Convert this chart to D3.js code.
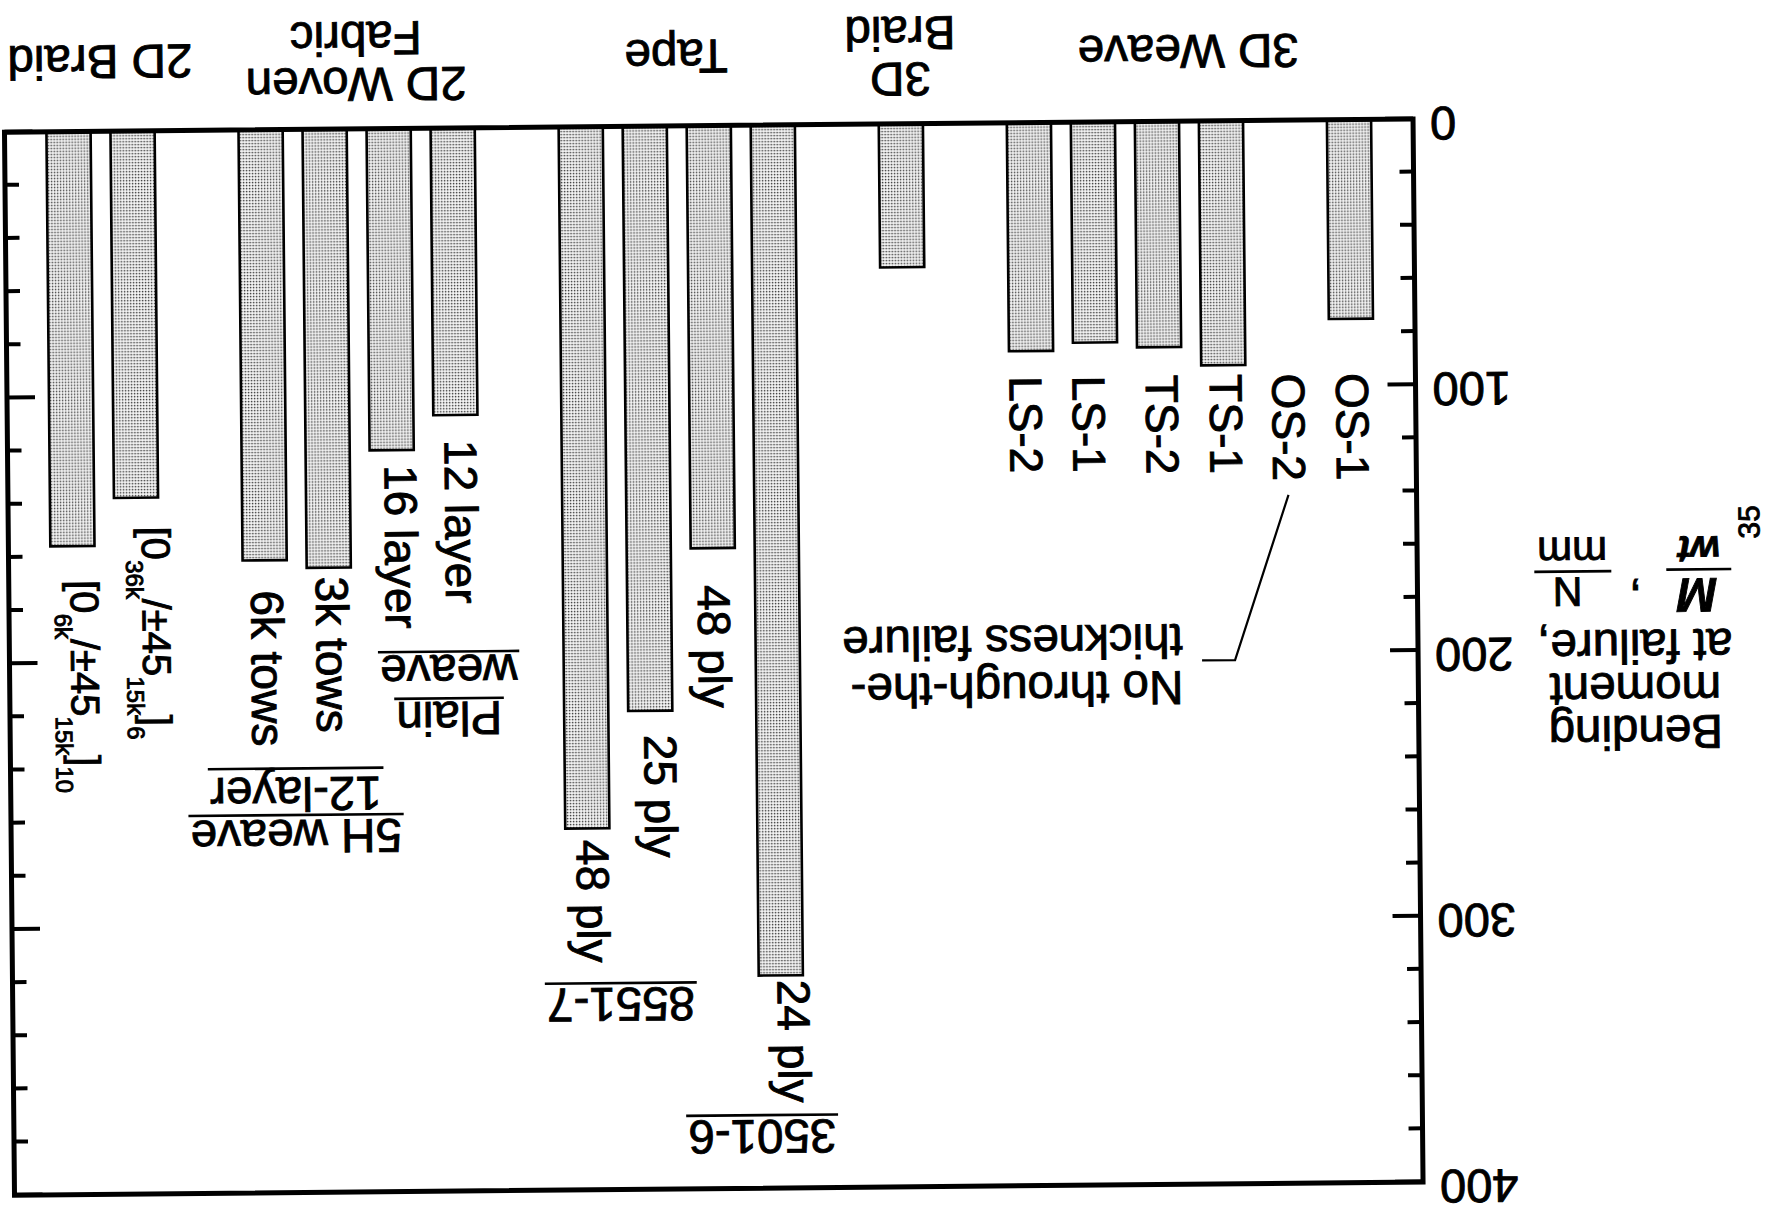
<!DOCTYPE html>
<html><head><meta charset="utf-8">
<script src="https://cdn.jsdelivr.net/npm/d3@7"></script>
<style>
html,body{margin:0;padding:0;background:#fff;}
svg{display:block;}
text{font-family:"Liberation Sans", Arial, Helvetica, sans-serif; fill:#000; stroke:#000; stroke-width:0.9px;}
</style></head><body>
<svg id="chart" width="1773" height="1213"></svg>
<script>
// ---------------- data ----------------
const groupTitleLines = [["3D Weave"], ["3D", "Braid"], ["Tape"], ["2D Woven", "Fabric"], ["2D Braid"]];
const weaveLabels  = ["OS-1", "OS-2", "TS-1", "TS-2", "LS-1", "LS-2"];
const weaveValues  = [75, null, 92, 85, 83, 86];          // OS-2: no through-the-thickness failure
const braid3DLabels = [""];
const braid3DValues = [54];
const tapeLabels   = ["24 ply", "48 ply", "25 ply", "48 ply"];
const tapeValues   = [320, 159, 220, 264];
const wovenLabels  = ["12 layer", "16 layer", "3k tows", "6k tows"];
const wovenValues  = [108, 121, 165, 162];
const braid2DLabels = ["[0_{36k}/±45_{15k}]_{6}", "[0_{6k}/±45_{15k}]_{10}"];
const braid2DValues = [138, 156];
const yTickLabels = [0, 100, 200, 300, 400];
const tapeHeaders  = ["3501-6", "8551-7"];
const wovenHeaders = [["Plain", "weave"], ["5H weave", "12-layer"]];
const noteLines = ["No through-the-", "thickness failure"];
const yTitleLines = ["Bending", "moment", "at failure,"];

// ---------------- layout (not data) ----------------
const W = 1773, H = 1213;
const frame = {left: 355.4, right: 1764, top: 26, bottom: 1089.1};
const labelDx  = [[15.3, 15.2, 13.7, 13.5, 22.8, 21.7], [0], [3.3, 15.3, 6.3, 11], [11, 7.4, 13, 14], [-5.5, 2.3]];
const labelGap = [null, [0], [4.6, 37, 24, 11.6], [25, 15, 9, 30], [29, 34]];

const groups = [
  {title: groupTitleLines[0], labels: weaveLabels,  values: weaveValues},
  {title: groupTitleLines[1], labels: braid3DLabels, values: braid3DValues},
  {title: groupTitleLines[2], labels: tapeLabels,   values: tapeValues},
  {title: groupTitleLines[3], labels: wovenLabels,  values: wovenValues},
  {title: groupTitleLines[4], labels: braid2DLabels, values: braid2DValues}
];
const slots = [];
groups.forEach((g, gi) => {
  if (gi > 0) slots.push({key: "gap" + gi, gap: true});
  g.labels.forEach((l, i) => slots.push({key: "g" + gi + "-" + i, group: gi, idx: i, label: l, value: g.values[i]}));
});

const svg = d3.select("#chart");
const defs = svg.append("defs");
const pat = defs.append("pattern").attr("id", "stipple").attr("patternUnits", "userSpaceOnUse")
  .attr("width", 3).attr("height", 3);
pat.append("rect").attr("width", 3).attr("height", 3).attr("fill", "#fff");
pat.append("rect").attr("x", 0.6).attr("y", 0.6).attr("width", 1.6).attr("height", 1.6).attr("fill", "#404040");

// The reference figure is printed upside down (and very slightly skewed)
const root = svg.append("g").attr("transform", `rotate(179.46 ${W / 2} ${H / 2})`);

const x = d3.scaleBand().domain(slots.map(d => d.key)).range([frame.left, frame.right])
  .paddingInner(0.31).paddingOuter(0.655);
const y = d3.scaleLinear().domain([0, 400]).range([frame.bottom, frame.top]);
const cx = d => x(d.key) + x.bandwidth() / 2;

// bars
const bars = slots.filter(d => !d.gap && d.value != null);
root.append("g").selectAll("rect").data(bars).join("rect")
  .attr("x", d => x(d.key)).attr("width", x.bandwidth())
  .attr("y", d => y(d.value)).attr("height", d => y(0) - y(d.value))
  .attr("fill", "url(#stipple)").attr("stroke", "#000").attr("stroke-width", 2.6);

// frame
root.append("rect").attr("x", frame.left).attr("y", frame.top)
  .attr("width", frame.right - frame.left).attr("height", frame.bottom - frame.top)
  .attr("fill", "none").attr("stroke", "#000").attr("stroke-width", 5);

// inward ticks on both vertical sides
const minorTicks = y.ticks(20).filter(v => yTickLabels.indexOf(v) < 0);
function tickSet(axisFn, xpos, vals, size) {
  const g = root.append("g").attr("transform", `translate(${xpos},0)`)
    .call(axisFn(y).tickValues(vals).tickSize(size).tickFormat(""));
  g.select(".domain").remove();
  g.selectAll("line").attr("stroke", "#000").attr("stroke-width", 4);
}
tickSet(d3.axisRight, frame.left, yTickLabels, 28);
tickSet(d3.axisRight, frame.left, minorTicks, 14);
tickSet(d3.axisLeft, frame.right, yTickLabels, 28);
tickSet(d3.axisLeft, frame.right, minorTicks, 14);

// tick labels
const yLab = root.append("g").attr("transform", `translate(${frame.left},0)`)
  .call(d3.axisLeft(y).tickValues(yTickLabels).tickSize(0).tickPadding(17).tickFormat(d3.format("d")));
yLab.select(".domain").remove();
yLab.attr("font-family", null).attr("font-size", null);
yLab.selectAll("text").attr("font-size", 47).attr("dy", "0.24em");

// multi-line text helper: one <text> with a tspan per line
function lines(parent, arr, xPos, bases, size, anchor) {
  const t = parent.append("text").attr("font-size", size).attr("text-anchor", anchor || "middle");
  arr.forEach((s, i) => t.append("tspan").attr("x", xPos).attr("y", bases[i]).text(s));
  return t;
}

// y-axis title
const tX = frame.left - 217;
lines(root, yTitleLines, tX, [490, 533, 576], 47.5);
// fraction  M / wt , N / mm
const serif = '"Liberation Serif", "Times New Roman", serif';
root.append("text").attr("x", tX - 63).attr("y", 627).attr("text-anchor", "middle")
  .attr("font-family", serif).attr("font-style", "italic").attr("font-weight", "bold").attr("font-size", 48).text("M");
root.append("line").attr("x1", tX - 97).attr("x2", tX - 32).attr("y1", 636).attr("y2", 636)
  .attr("stroke", "#000").attr("stroke-width", 2.6);
root.append("text").attr("x", tX - 65).attr("y", 669).attr("text-anchor", "middle")
  .attr("font-family", serif).attr("font-style", "italic").attr("font-weight", "bold").attr("font-size", 38).text("wt");
root.append("text").attr("x", tX - 1).attr("y", 621).attr("text-anchor", "middle").attr("font-size", 47).text(",");
root.append("text").attr("x", tX + 67).attr("y", 629).attr("text-anchor", "middle").attr("font-size", 41).text("N");
root.append("line").attr("x1", tX + 23).attr("x2", tX + 100).attr("y1", 635).attr("y2", 635)
  .attr("stroke", "#000").attr("stroke-width", 2.6);
root.append("text").attr("x", tX + 62).attr("y", 669).attr("text-anchor", "middle").attr("font-size", 42).text("mm");
root.append("text").attr("transform", `translate(${13},${683}) rotate(90)`)
  .attr("text-anchor", "middle").attr("font-size", 30).text("35");

// group titles under the frame
groups.forEach((g, gi) => {
  const items = slots.filter(d => d.group === gi);
  const c = d3.mean(items, cx);
  const bases = g.title.length === 1 ? [1175] : [1150, 1196];
  lines(root, g.title, c, bases, 47.5);
});

// rich text (subscripts written as _{...})
function richTspans(sel, s, subSize, drop) {
  const re = /_\{([^}]*)\}/g; let last = 0, m, inSub = false;
  const push = (t, sub) => {
    const ts = sel.append("tspan").text(t);
    if (sub && !inSub) { ts.attr("dy", drop).attr("font-size", subSize); inSub = true; }
    else if (sub) ts.attr("font-size", subSize);
    else if (!sub && inSub) { ts.attr("dy", -drop); inSub = false; }
  };
  while ((m = re.exec(s))) {
    if (m.index > last) push(s.slice(last, m.index), false);
    push(m[1], true);
    last = re.lastIndex;
  }
  if (last < s.length) push(s.slice(last), false);
}

// bar labels (vertical)
const weaveStart = y(d3.max(weaveValues)) - 9;
slots.filter(d => !d.gap && d.label).forEach(d => {
  const gi = d.group;
  const sy = gi === 0 ? weaveStart : y(d.value) - labelGap[gi][d.idx];
  const t = root.append("text")
    .attr("transform", `translate(${cx(d) + labelDx[gi][d.idx]},${sy}) rotate(-90)`)
    .attr("text-anchor", "start").attr("font-size", gi === 4 ? 40 : 46);
  if (gi === 4) richTspans(t, d.label, 24, 16); else t.text(d.label);
});

// headers with underlines (one text element per header block)
function header(arr, c, bases, uls) {
  const t = lines(root, arr, c, bases, 47.5);
  t.selectAll("tspan").each(function (_, i) {
    const w = this.getComputedTextLength();
    root.append("line").attr("x1", c - w / 2 - 2).attr("x2", c + w / 2 + 2)
      .attr("y1", bases[i] + uls[i]).attr("y2", bases[i] + uls[i])
      .attr("stroke", "#000").attr("stroke-width", 2.6);
  });
}
const tapeSlots = slots.filter(d => d.group === 2);
const wovenSlots = slots.filter(d => d.group === 3);
header([tapeHeaders[0]], cx(tapeSlots[0]) + 20, [y(374.4)], [5]);
header([tapeHeaders[1]], (cx(tapeSlots[2]) + cx(tapeSlots[3])) / 2, [y(324.2)], [5]);
header(wovenHeaders[0], cx(wovenSlots[0]) + 9, [y(215.9), y(198.3)], [3.5, 3.5]);
header(wovenHeaders[1], (cx(wovenSlots[2]) + cx(wovenSlots[3])) / 2 + 3, [y(259.8), y(243.8)], [5, 9]);

// OS-2 note with leader line
const os2 = slots.find(d => d.group === 0 && d.idx === 1);
const c1 = cx(os2);
root.append("path").attr("d", d3.line()([[c1, y(141)], [c1 + 55, y(203)], [c1 + 88, y(203)]]))
  .attr("fill", "none").attr("stroke", "#000").attr("stroke-width", 2.2);
lines(root, noteLines, c1 + 107, [y(207), y(189.3)], 47.5, "start");
</script>
</body></html>
